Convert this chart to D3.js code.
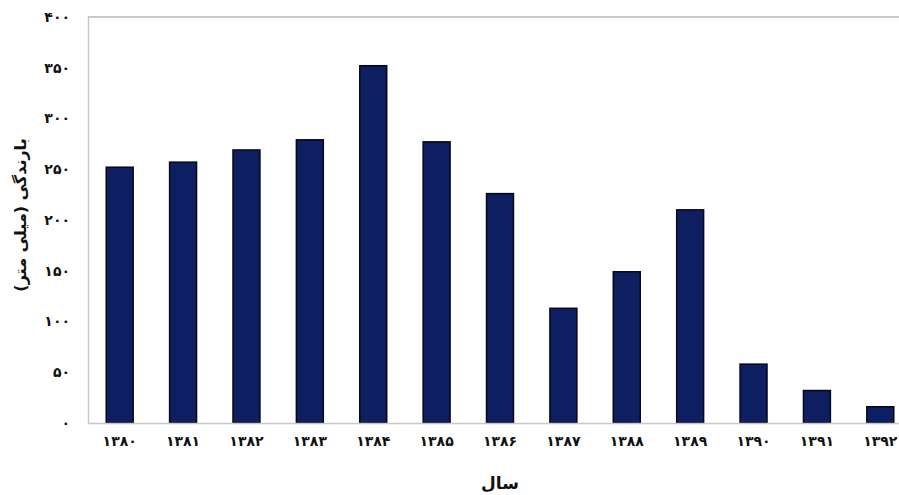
<!DOCTYPE html>
<html><head><meta charset="utf-8">
<script src="https://cdn.jsdelivr.net/npm/d3@7"></script>
<style>body{margin:0;background:#fff}</style>
</head><body>
<svg id="c" width="899" height="495"></svg>
<script>
const categories = ["۱۳۸۰","۱۳۸۱","۱۳۸۲","۱۳۸۳","۱۳۸۴","۱۳۸۵","۱۳۸۶","۱۳۸۷","۱۳۸۸","۱۳۸۹","۱۳۹۰","۱۳۹۱","۱۳۹۲"];
const values = [252, 257, 269, 279, 352, 277, 226, 113, 149, 210, 58, 32, 16];
const yTicks = [0, 50, 100, 150, 200, 250, 300, 350, 400];
const yTickLabels = ["۰","۵۰","۱۰۰","۱۵۰","۲۰۰","۲۵۰","۳۰۰","۳۵۰","۴۰۰"];
const xTitle = "سال";
const yTitle = "بارندگی (میلی متر)";

(function () {
const svg = d3.select("#c");
const mL = 88, mR = 912, mT = 17, mB = 423;
const font = "'DejaVu Sans', sans-serif";

const x = d3.scaleBand().domain(categories).range([mL, mR]).paddingInner(0.575).paddingOuter(0.2875);
const y = d3.scaleLinear().domain([0, 400]).range([mB, mT]);

// frame
svg.append("line").attr("x1", mL).attr("x2", 899).attr("y1", mT).attr("y2", mT)
  .attr("stroke", "#c8c8c8").attr("stroke-width", 2);

// bars
svg.append("g").selectAll("rect").data(values).join("rect")
  .attr("x", (d, i) => x(categories[i]))
  .attr("width", x.bandwidth())
  .attr("y", d => y(d))
  .attr("height", d => y(0) - y(d))
  .attr("fill", "#0d1f60")
  .attr("stroke", "#05071a")
  .attr("stroke-width", 1.5);

// y axis
const yAxis = d3.axisLeft(y).tickValues(yTicks).tickSize(0).tickPadding(18)
  .tickFormat((d, i) => yTickLabels[i]);
const gy = svg.append("g").attr("transform", `translate(${mL},0)`).call(yAxis);
gy.select(".domain").attr("stroke", "#c8c8c8").attr("stroke-width", 1.5);
gy.selectAll("text").attr("font-family", font).attr("font-weight", "bold")
  .attr("font-size", 14).attr("fill", "#111");

// x axis
const xAxis = d3.axisBottom(x).tickSize(0).tickPadding(13);
const gx = svg.append("g").attr("transform", `translate(0,${mB})`).call(xAxis);
gx.select(".domain").attr("stroke", "#c8c8c8").attr("stroke-width", 1.5);
gx.selectAll("text").attr("font-family", font).attr("font-weight", "bold")
  .attr("font-size", 14).attr("fill", "#111");

// titles
svg.append("text").attr("x", (mL + mR) / 2).attr("y", 489)
  .attr("text-anchor", "middle").attr("font-family", font).attr("font-weight", "bold")
  .attr("font-size", 17).attr("fill", "#111").text(xTitle);
svg.append("text").attr("transform", `translate(26,${(mT + mB) / 2 - 5}) rotate(-90)`)
  .attr("text-anchor", "middle").attr("font-family", font).attr("font-weight", "bold")
  .attr("font-size", 16).attr("fill", "#111").text(yTitle);
})();
</script>
</body></html>
